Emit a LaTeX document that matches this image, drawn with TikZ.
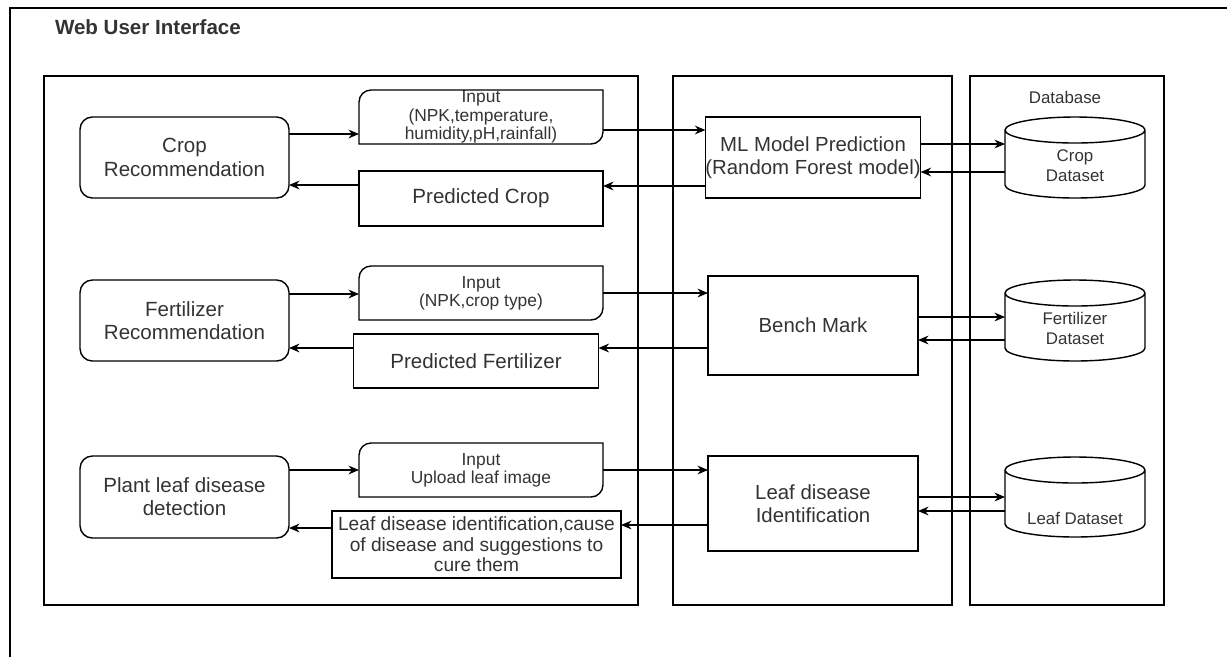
\documentclass[tikz,border=0pt]{standalone}
\usepackage{fontspec}
\setmainfont{Liberation Sans}
\usepackage{xcolor}
\usetikzlibrary{arrows.meta}

\definecolor{txtgray}{HTML}{333333}

% input box: rounded top left and bottom right corners
\newcommand{\inshape}[1]{%
  \draw (#1.south west) -- ([yshift=-0.24cm]#1.north west)
    arc[start angle=180, end angle=90, radius=0.24cm] -- (#1.north east)
    -- ([yshift=0.24cm]#1.south east)
    arc[start angle=0, end angle=-90, radius=0.24cm] -- cycle;}
% database cylinder
\newcommand{\dbshape}[1]{%
  \draw ([yshift=-0.26cm]#1.north west) -- ([yshift=0.26cm]#1.south west)
    arc[start angle=180, end angle=360, x radius=1.4cm, y radius=0.26cm]
    -- ([yshift=-0.26cm]#1.north east)
    arc[start angle=0, end angle=360, x radius=1.4cm, y radius=0.26cm];}

\begin{document}
\begin{tikzpicture}
            [x=0.02cm, y=-0.02cm, line width=0.8pt,
            every node/.style = {inner sep=0pt, outer sep=0pt, text=txtgray},
            task/.style = {draw, rounded corners=7pt,
                        minimum width=4.18cm, minimum height=1.62cm,
                        align=center, font=\fontsize{11.7}{13.2}\selectfont},
            inbox/.style = {minimum width=4.88cm, minimum height=1.08cm,
                        align=center, font=\fontsize{9.9}{10.4}\selectfont},
            outbox/.style = {draw, minimum height=1.1cm,
                        align=center, font=\fontsize{11.7}{13.2}\selectfont},
            model/.style = {draw, minimum width=4.2cm,
                        align=center, font=\fontsize{11.6}{13.2}\selectfont},
            db/.style = {minimum width=2.8cm, minimum height=1.62cm},
            dbtext/.style = {align=center, font=\fontsize{9.6}{11.4}\selectfont},
            arr/.style = {-{Stealth[length=6pt,width=5pt]}}]
            \useasboundingbox (0,0) rectangle (1227,657);
            % Marcos
            \draw (10,657) -- (10,8) -- (1227,8);
            \node[anchor=west, font=\bfseries\fontsize{11.7}{13}\selectfont] (title) at (55,27) {Web User Interface};
            \draw (44,76) rectangle (638,605);
            \draw (673,76) rectangle (952,605);
            \draw (970,76) rectangle (1164,605);
            \node[font=\fontsize{9.6}{11}\selectfont] (dbtitle) at (1065,97) {Database};

            % Crop
            \node[task] (crec) at (184.5,157.5) {Crop\\Recommendation};
            \node[inbox] (in1) at (481,117) {Input\\(NPK,temperature,\\humidity,pH,rainfall)};
            \inshape{in1}
            \node[outbox, minimum width=4.88cm] (pcrop) at (481,198.5) {Predicted Crop};
            \node[model, minimum height=1.62cm] (ml) at (813,157.5) {ML Model Prediction\\(Random Forest model)};
            \node[db] (cdb) at (1075,157.5) {};
            \dbshape{cdb}
            \node[dbtext] at (1075,166) {Crop\\Dataset};

            % Fertilizer
            \node[task] (frec) at (184.5,320.5) {Fertilizer\\Recommendation};
            \node[inbox] (in2) at (481,293) {Input\\(NPK,crop type)};
            \inshape{in2}
            \node[outbox, minimum width=4.9cm, minimum height=1.08cm] (pfert) at (476,361) {Predicted Fertilizer};
            \node[model, minimum height=1.98cm] (bench) at (813,325.5) {Bench Mark};
            \node[db] (fdb) at (1075,320.5) {};
            \dbshape{fdb}
            \node[dbtext] at (1075,328) {Fertilizer\\Dataset};

            % Leaf disease
            \node[task, minimum height=1.64cm] (pleaf) at (184.5,497) {Plant leaf disease\\detection};
            \node[inbox] (in3) at (481,470) {Input\\Upload leaf image};
            \inshape{in3}
            \node[outbox, minimum width=5.78cm, minimum height=1.34cm,
                  font=\fontsize{10.9}{11.6}\selectfont] (lres) at (476.5,544.5)
                  {Leaf disease identification,cause\\of disease and suggestions to\\cure them};
            \node[model, minimum height=1.9cm] (lid) at (813,503.5) {Leaf disease\\Identification};
            \node[db, minimum height=1.6cm] (ldb) at (1075,497) {};
            \dbshape{ldb}
            \node[dbtext] at (1075,518) {Leaf Dataset};

            % Flechas
            \draw[arr] (crec.east |- 0,134) -- (in1.west |- 0,134);
            \draw[arr] (in1.east |- 0,130) -- (ml.west |- 0,130);
            \draw[arr] (ml.west |- 0,186) -- (pcrop.east |- 0,186);
            \draw[arr] (pcrop.west |- 0,185) -- (crec.east |- 0,185);
            \draw[arr] (ml.east |- 0,144) -- (cdb.west |- 0,144);
            \draw[arr] (cdb.west |- 0,172) -- (ml.east |- 0,172);

            \draw[arr] (frec.east |- 0,294) -- (in2.west |- 0,294);
            \draw[arr] (in2.east |- 0,293) -- (bench.west |- 0,293);
            \draw[arr] (bench.west |- 0,348) -- (pfert.east |- 0,348);
            \draw[arr] (pfert.west |- 0,348) -- (frec.east |- 0,348);
            \draw[arr] (bench.east |- 0,317) -- (fdb.west |- 0,317);
            \draw[arr] (fdb.west |- 0,340) -- (bench.east |- 0,340);

            \draw[arr] (pleaf.east |- 0,470) -- (in3.west |- 0,470);
            \draw[arr] (in3.east |- 0,470) -- (lid.west |- 0,470);
            \draw[arr] (lid.west |- 0,525) -- (lres.east |- 0,525);
            \draw[arr] (lres.west |- 0,528) -- (pleaf.east |- 0,528);
            \draw[arr] (lid.east |- 0,497) -- (ldb.west |- 0,497);
            \draw[arr] (ldb.west |- 0,511) -- (lid.east |- 0,511);
        \end{tikzpicture}
\end{document}
